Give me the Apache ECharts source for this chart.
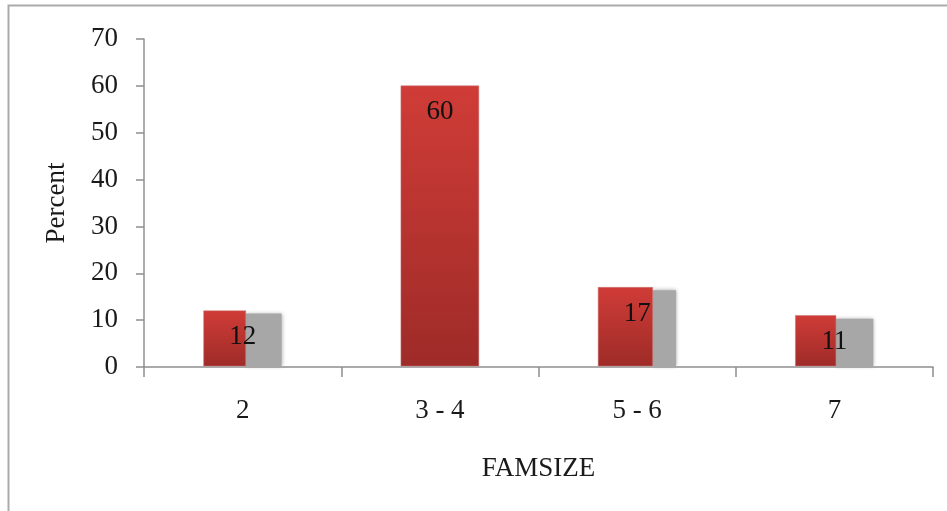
<!DOCTYPE html>
<html>
<head>
<meta charset="utf-8">
<script src="https://cdn.jsdelivr.net/npm/echarts@6/dist/echarts.min.js"></script>
<style>
html,body{margin:0;padding:0;background:#fff;}
#chart{width:947px;height:511px;}
</style>
</head>
<body>
<div id="chart"></div>
<script>
const categories = ['2', '3 - 4', '5 - 6', '7'];
const percent = [12, 60, 17, 11];
// grey "shadow" part visible on the right of some bars
const shadowValues = [11.4, 0, 16.4, 10.3];
// share of each bar's width that stays red (left part)
const redShare = [0.54, 1, 0.70, 0.52];
const yTicks = [0, 10, 20, 30, 40, 50, 60, 70];

const serif = '"Liberation Serif", "DejaVu Serif", serif';
const chart = echarts.init(document.getElementById('chart'), null, {renderer: 'canvas'});

const barData = categories.map((c, i) => [i, percent[i], shadowValues[i], redShare[i]]);

chart.setOption({
  animation: false,
  backgroundColor: '#ffffff',
  graphic: [{
    type: 'rect',
    shape: {x: 8.5, y: 5.5, width: 1200, height: 800},
    style: {fill: 'none', stroke: '#ababab', lineWidth: 2},
    silent: true, z: 0
  }],
  grid: {left: 144, top: 39, right: 14, bottom: 144, containLabel: false},
  xAxis: {
    type: 'category',
    data: categories,
    name: 'FAMSIZE',
    nameLocation: 'middle',
    nameGap: 88,
    nameTextStyle: {fontFamily: serif, fontSize: 27, color: '#1a1a1a'},
    axisLine: {lineStyle: {color: '#8f8f8f', width: 1.5}},
    axisTick: {show: true, length: 10, lineStyle: {color: '#8f8f8f', width: 1.5}},
    axisLabel: {fontFamily: serif, fontSize: 27, color: '#1a1a1a', margin: 30}
  },
  yAxis: {
    type: 'value',
    min: yTicks[0],
    max: yTicks[yTicks.length - 1],
    interval: 10,
    name: 'Percent',
    nameLocation: 'middle',
    nameGap: 74,
    nameRotate: 90,
    nameTextStyle: {fontFamily: serif, fontSize: 27, color: '#1a1a1a'},
    axisLine: {show: true, lineStyle: {color: '#8f8f8f', width: 1.5}},
    axisTick: {show: true, length: 8, lineStyle: {color: '#8f8f8f', width: 1.5}},
    axisLabel: {fontFamily: serif, fontSize: 27, color: '#1a1a1a', margin: 26},
    splitLine: {show: false}
  },
  series: [{
    type: 'custom',
    name: 'Percent',
    z: 3,
    data: barData,
    encode: {x: 0, y: 1},
    renderItem: function (params, api) {
      const i = api.value(0);
      const v = api.value(1);
      const s = api.value(2);
      const frac = api.value(3);
      const top = api.coord([i, v]);
      const base = api.coord([i, 0]);
      const band = api.size([1, 0])[0];
      const bw = band * 0.395;
      const left = top[0] - bw / 2;
      const children = [];
      if (frac < 1 && s > 0) {
        const sTop = api.coord([i, s])[1];
        children.push({
          type: 'rect',
          shape: {x: left + bw * frac, y: sTop, width: bw * (1 - frac), height: base[1] - sTop - 1},
          style: {fill: '#a7a7a7', shadowBlur: 4, shadowColor: 'rgba(160,160,160,0.9)'}
        });
      }
      children.push({
        type: 'rect',
        shape: {x: left, y: top[1], width: bw * frac, height: base[1] - top[1] - 1},
        style: {
          fill: new echarts.graphic.LinearGradient(0, 0, 0, 1, [
            {offset: 0, color: '#d03c37'},
            {offset: 1, color: '#9e2b28'}
          ]),
          stroke: 'rgba(200,120,120,0.5)',
          lineWidth: 1
        }
      });
      children.push({
        type: 'text',
        style: {
          text: String(v),
          x: top[0],
          y: top[1] + 13,
          align: 'center',
          verticalAlign: 'top',
          font: '27px ' + serif,
          fill: '#111111'
        },
        z2: 10
      });
      return {type: 'group', children: children};
    }
  }]
});
</script>
</body>
</html>
